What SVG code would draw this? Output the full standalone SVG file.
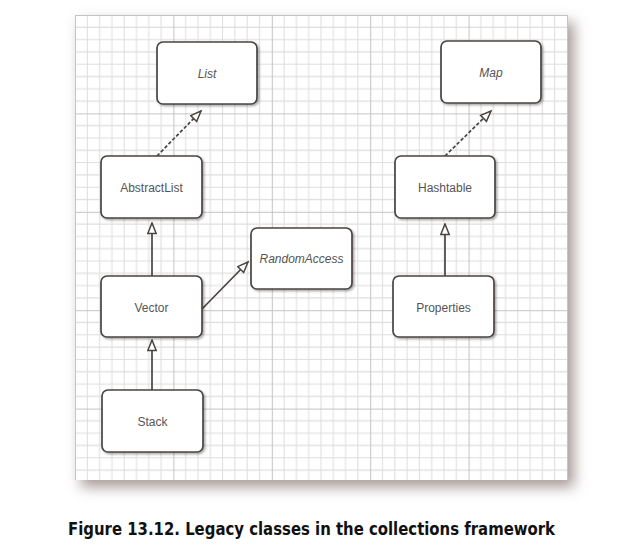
<svg xmlns="http://www.w3.org/2000/svg" width="631" height="553" viewBox="0 0 631 553">
<style>
.box{fill:#fff;stroke:#4a4440;stroke-width:1.7}
.lbl{font-family:"Liberation Sans",Arial,sans-serif;font-size:12px;fill:#555;text-anchor:middle}
.it{font-style:italic}
.conn{stroke:#4a4440;stroke-width:1.7;fill:none}
.dash{stroke-dasharray:3.5,2}
.fine{stroke:#dedede;stroke-width:1}
.major{stroke:#c4c4c4;stroke-width:1}
</style>
<defs>
<pattern id="grid" patternUnits="userSpaceOnUse" x="75" y="15" width="98.4" height="98.4">
<rect width="98.4" height="98.4" fill="#fff"/>
<path class="fine" d="M12.3,0V98.4M24.6,0V98.4M36.9,0V98.4M49.2,0V98.4M61.5,0V98.4M73.8,0V98.4M86.1,0V98.4M0,12.3H98.4M0,24.6H98.4M0,36.9H98.4M0,49.2H98.4M0,61.5H98.4M0,73.8H98.4M0,86.1H98.4"/>
<path class="major" d="M0.5,0V98.4M0,0.5H98.4"/>
</pattern>
<filter id="pshadow" x="-10%" y="-10%" width="130%" height="130%">
<feDropShadow dx="6" dy="7" stdDeviation="7" flood-color="#6a5550" flood-opacity="0.6"/>
</filter>
<filter id="nshadow" x="-10%" y="-10%" width="130%" height="130%">
<feDropShadow dx="1.5" dy="1.5" stdDeviation="1.2" flood-color="#000" flood-opacity="0.35"/>
</filter>
<marker id="tri" markerUnits="userSpaceOnUse" markerWidth="13" markerHeight="11" refX="11.5" refY="5" orient="auto">
<path d="M1,0.8 L11.5,5 L1,9.2 Z" fill="#fff" stroke="#4a4440" stroke-width="1.5"/>
</marker>
</defs>
<rect width="631" height="553" fill="#fff"/>
<rect x="75" y="15" width="493" height="465" fill="#fff" filter="url(#pshadow)"/>
<rect x="75" y="15" width="493" height="465" fill="url(#grid)"/>

<g id="connectors">
<line class="conn dash" x1="157" y1="156" x2="201" y2="111" marker-end="url(#tri)"/>
<line class="conn dash" x1="445" y1="156" x2="491" y2="111" marker-end="url(#tri)"/>
<line class="conn" x1="152" y1="276" x2="152" y2="223" marker-end="url(#tri)"/>
<line class="conn" x1="152" y1="390" x2="152" y2="340" marker-end="url(#tri)"/>
<line class="conn" x1="202" y1="309" x2="248" y2="262" marker-end="url(#tri)"/>
<line class="conn" x1="445" y1="276" x2="445" y2="224" marker-end="url(#tri)"/>
</g>

<g id="List"><rect class="box" x="157" y="42" width="100" height="62" rx="6" filter="url(#nshadow)"/><text class="lbl it" x="207" y="78">List</text></g>
<g id="Map"><rect class="box" x="441" y="41" width="100" height="62" rx="6" filter="url(#nshadow)"/><text class="lbl it" x="491" y="77">Map</text></g>
<g id="AbstractList"><rect class="box" x="101" y="156" width="101" height="62" rx="6" filter="url(#nshadow)"/><text class="lbl" x="151.5" y="192">AbstractList</text></g>
<g id="Hashtable"><rect class="box" x="395" y="156" width="100" height="62" rx="6" filter="url(#nshadow)"/><text class="lbl" x="445" y="192">Hashtable</text></g>
<g id="RandomAccess"><rect class="box" x="251" y="228" width="101" height="61" rx="6" filter="url(#nshadow)"/><text class="lbl it" x="301.5" y="263">RandomAccess</text></g>
<g id="Vector"><rect class="box" x="101" y="276" width="101" height="61" rx="6" filter="url(#nshadow)"/><text class="lbl" x="151.5" y="312">Vector</text></g>
<g id="Properties"><rect class="box" x="393" y="276" width="101" height="61" rx="6" filter="url(#nshadow)"/><text class="lbl" x="443.5" y="312">Properties</text></g>
<g id="Stack"><rect class="box" x="102" y="390" width="101" height="62" rx="6" filter="url(#nshadow)"/><text class="lbl" x="152.5" y="426">Stack</text></g>

<text x="68" y="535" font-family="'DejaVu Sans',Verdana,sans-serif" font-weight="bold" font-size="17" fill="#111" textLength="487" lengthAdjust="spacingAndGlyphs">Figure 13.12. Legacy classes in the collections framework</text>
</svg>
